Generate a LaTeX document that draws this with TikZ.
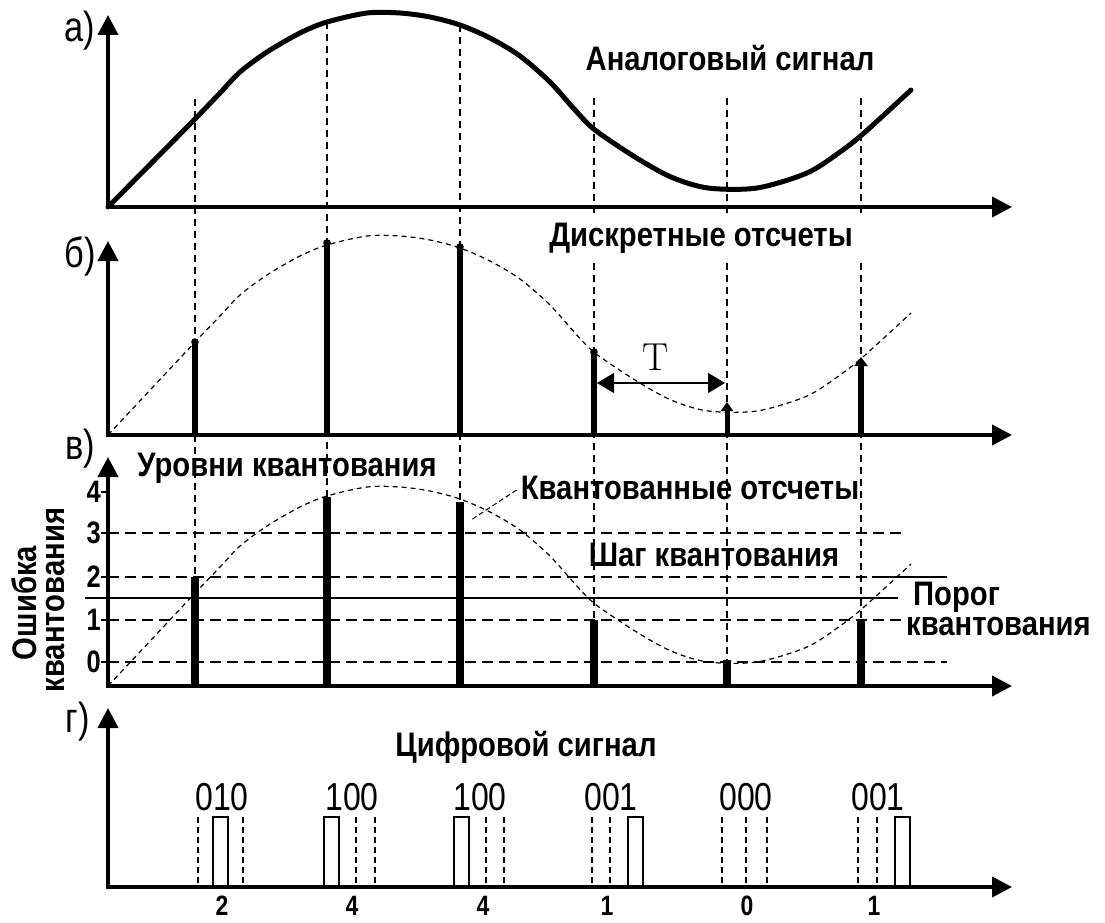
\documentclass[tikz,border=0pt]{standalone}
\usepackage{fontspec}
\newfontfamily\lab[FakeStretch=0.86]{Liberation Sans}
\newfontfamily\labn[FakeStretch=0.82]{Liberation Sans}
\usetikzlibrary{arrows.meta}
\begin{document}
\begin{tikzpicture}[x=1pt,y=-1pt,
  axis/.style={line width=4pt,line join=miter,{Triangle[length=20pt,width=20pt]}-{Triangle[length=20pt,width=20pt]}},
  vdash/.style={line width=1.5pt,dash pattern=on 7pt off 5pt},
  thincurve/.style={line width=1.2pt,dash pattern=on 5pt off 4pt},
  lvl/.style={line width=1.8pt,dash pattern=on 11pt off 6pt},
  barb/.style={line width=6pt},
  barv/.style={line width=8pt},
  lbl/.style={font=\lab\bfseries\fontsize{34}{36}\selectfont,inner sep=0pt},
  plab/.style={font=\labn\fontsize{42}{44}\selectfont,inner sep=0pt},
  code/.style={font=\labn\fontsize{39}{41}\selectfont,inner sep=0pt},
  num/.style={font=\labn\bfseries\fontsize{31}{33}\selectfont,inner sep=0pt},
  bnum/.style={font=\labn\bfseries\fontsize{28}{30}\selectfont,inner sep=0pt},
  slot/.style={line width=1.4pt,dash pattern=on 6pt off 4pt},
  pulse/.style={line width=1.6pt}
  ]
\useasboundingbox (0,0) rectangle (1105,923);
\fill[white] (0,0) rectangle (1105,923);

% ---------- dashed sampling verticals ----------
\draw[vdash] (195,99) -- (195,577);
\draw[vdash] (327,22) -- (327,497);
\draw[vdash] (460,25) -- (460,502);
\foreach \xx/\yy in {594/620,727/660,861/620}{
  \draw[vdash] (\xx,98) -- (\xx,213);
  \draw[vdash] (\xx,263) -- (\xx,\yy);
}

% ---------- panel a ----------
\draw[axis] (108,15) -- (108,207) -- (1012,207);
\node[plab] (la) at (80,31) {а)};
\draw[line width=5pt,line join=round,line cap=round] (108,207) -- plot[smooth] coordinates {(196,118) (220,93) (240,72) (267,52) (300,33) (327,22) (367,13) (400,13) (430,17) (460,25) (490,38) (520,56) (550,82) (575,110) (595,130) (635,157) (671,177) (708,188) (757,188) (807,173) (840,152) (864,133) (911,90)};
\node[lbl] (ta) at (730,58) {Аналоговый сигнал};

% ---------- panel b ----------
\draw[axis] (108,241) -- (108,435) -- (1012,435);
\node[plab] (lb) at (80,256) {б)};
\coordinate (ob) at (108,435);
\begin{scope}[shift={(0,223)}]
\draw[thincurve] (ob) -- plot[smooth] coordinates {(196,118) (220,93) (240,72) (267,52) (300,33) (327,22) (367,13) (400,13) (430,17) (460,25) (490,38) (520,56) (550,82) (575,110) (595,130) (635,157) (671,177) (708,188) (757,188) (807,173) (840,152) (864,133) (911,90)};
\end{scope}
\foreach \xx/\yy in {195/342,327/243,460/247,594/352}{
  \draw[barb] (\xx,435) -- (\xx,\yy);
  \fill (\xx,\yy) circle (3.8pt);
}
\draw[line width=5pt,-{Triangle[length=9pt,width=12pt]}] (727,435) -- (727,402);
\draw[line width=6pt,-{Triangle[length=9pt,width=13pt]}] (861,435) -- (861,357);
\draw[line width=1.5pt,{Triangle[length=17pt,width=20pt]}-{Triangle[length=17pt,width=20pt]}] (597,383) -- (725,383);
\node[inner sep=0pt,font=\rmfamily\fontsize{39}{40}\selectfont] (tT) at (656,357) {T};
\node[lbl] (tb) at (701,238) {Дискретные отсчеты};

% ---------- panel v ----------
\draw[lvl] (108,533) -- (905,533);
\draw[lvl] (108,577) -- (872,577);
\draw[line width=1.8pt] (872,577) -- (947,577);
\draw[line width=1.6pt] (85,598) -- (898,598);
\draw[lvl] (108,620) -- (905,620);
\draw[lvl] (108,662) -- (947,662);
\foreach \yy/\nn in {492/4,533/3,577/2,620/1,662/0}{
  \draw[line width=1.5pt] (101,\yy) -- (108,\yy);
  \node[num,anchor=east] at (101,\yy) {\nn};
}
\draw[axis] (108,457) -- (108,686) -- (1012,686);
\node[plab] (lv) at (80,449) {в)};
\coordinate (ov) at (108,686);
\begin{scope}[shift={(0,474)}]
\draw[thincurve] (ov) -- plot[smooth] coordinates {(196,118) (220,93) (240,72) (267,52) (300,33) (327,22) (367,13) (400,13) (430,17) (460,25) (490,38) (520,56) (550,82) (575,110) (595,130) (635,157) (671,177) (708,188) (757,188) (807,173) (840,152) (864,133) (911,90)};
\end{scope}
\foreach \xx/\yy in {195/577,327/497,460/502,594/620,727/660,861/620}{
  \draw[barv] (\xx,686) -- (\xx,\yy);
}
\node[lbl] (tlev) at (287,468) {Уровни квантования};
\node[lbl] (tq) at (690,488) {Квантованные отсчеты};
\coordinate (qend) at (471,520);
\draw[line width=1pt,dash pattern=on 5pt off 3pt] (tq.west) ++(-4,2) -- (qend);
\node[lbl] (tstep) at (714,555) {Шаг квантования};
\node[lbl,anchor=west] (tpor1) at (913,597) {Порог};
\node[lbl,anchor=west] (tpor2) at (906,627) {квантования};
\node[lbl,rotate=90] (terr1) at (24,603) {Ошибка};
\node[lbl,rotate=90] (terr2) at (56,600) {квантования};

% ---------- panel g ----------
\draw[axis] (108,708) -- (108,887) -- (1012,887);
\node[plab] (lg) at (78,722) {г)};
\node[lbl] (tg) at (526,747) {Цифровой сигнал};
\foreach \xa in {213,324,454,628,895}{
  \draw[pulse] (\xa,887) -- (\xa,817) -- (\xa+15,817) -- (\xa+15,887);
}
\foreach \xx in {198,243,356,375,486,504,592,610,722,746,767,858,877}{
  \draw[slot] (\xx,817) -- (\xx,884);
}
\foreach \xx/\cc in {222/010,352/100,480/100,611/001,746/000,878/001}{
  \node[code] at (\xx,797) {\cc};
}
\foreach \xx/\nn in {222/2,352/4,483/4,607/1,747/0,874/1}{
  \node[bnum] at (\xx,906) {\nn};
}
\end{tikzpicture}
\end{document}
